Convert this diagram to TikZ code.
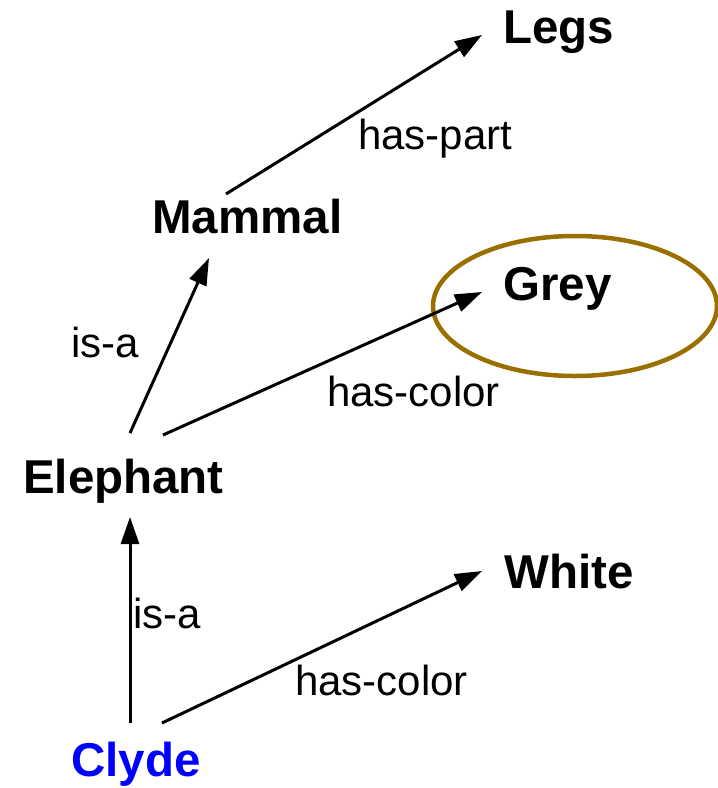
\documentclass[tikz,border=0pt]{standalone}
\usepackage{fontspec}
\setmainfont{Liberation Sans}
\usetikzlibrary{arrows.meta}
\definecolor{ringbrown}{RGB}{153,111,0}
\definecolor{clydeblue}{RGB}{0,0,255}
\tikzset{
  concept/.style={anchor=base west, inner sep=0pt, font=\fontsize{47.5}{56}\selectfont\bfseries},
  rel/.style={anchor=base west, inner sep=0pt, font=\fontsize{42}{50}\selectfont},
  arr/.style={line width=3pt, -{Triangle[length=27pt,width=18pt]}},
  ring/.style={draw=ringbrown, line width=4.5pt}
}
\begin{document}
\begin{tikzpicture}[x=1pt,y=-1pt]
\useasboundingbox (0,0) rectangle (718,788);
\draw[ring] (575,306) ellipse [x radius=142pt, y radius=70pt];
\node[concept] (legs) at (503,43) {Legs};
\node[concept] (mammal) at (152,233) {Mammal};
\node[concept] (grey) at (503,300) {Grey};
\node[concept] (elephant) at (23,493) {Elephant};
\node[concept] (white) at (504,588) {White};
\node[concept, text=clydeblue] (clyde) at (71,776) {Clyde};
\node[rel] (haspart) at (358,149) {has-part};
\node[rel] (isa1) at (71,357) {is-a};
\node[rel] (hascolor1) at (327,406) {has-color};
\node[rel] (isa2) at (133,628) {is-a};
\node[rel] (hascolor2) at (295,695) {has-color};
\draw[arr] ([shift={(74,-39)}]mammal.base west) -- ([shift={(-21,-8)}]legs.base west);
\draw[arr] ([shift={(107,-60)}]elephant.base west) -- ([shift={(57,25)}]mammal.base west);
\draw[arr] ([shift={(140,-58)}]elephant.base west) -- ([shift={(-21,-8)}]grey.base west);
\draw[arr] ([shift={(59,-53)}]clyde.base west) -- ([shift={(107,24)}]elephant.base west);
\draw[arr] ([shift={(91,-53)}]clyde.base west) -- ([shift={(-22,-17)}]white.base west);
\end{tikzpicture}
\end{document}
